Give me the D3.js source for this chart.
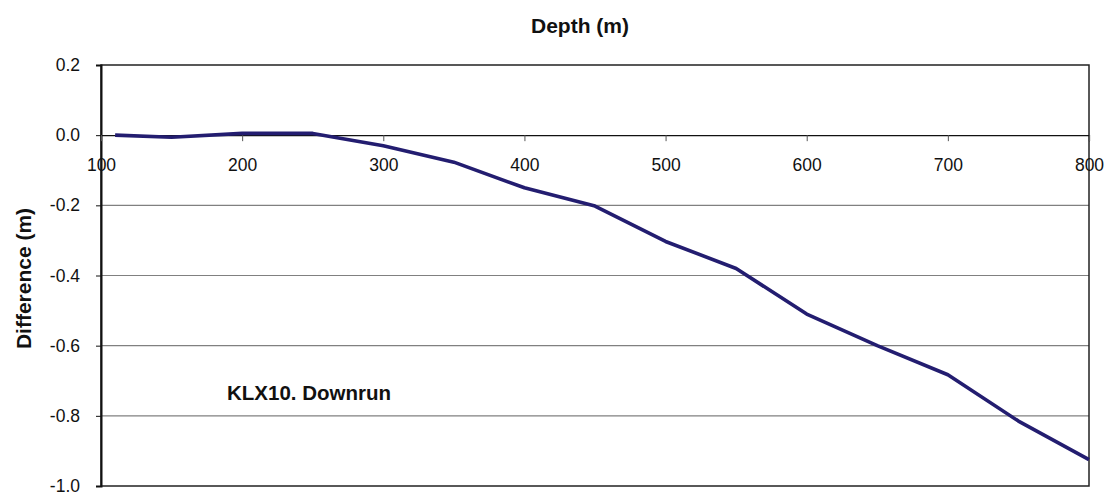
<!DOCTYPE html>
<html>
<head>
<meta charset="utf-8">
<script src="https://cdn.jsdelivr.net/npm/d3@7"></script>
<style>
  body { margin: 0; background: #fff; }
  svg text { font-family: "Liberation Sans", Arial, sans-serif; }
</style>
</head>
<body>
<svg id="chart" width="1107" height="499"></svg>
<script>
// depth (m) and difference (m)
var depths = [110, 150, 200, 250, 300, 350, 400, 450, 500, 550, 600, 650, 700, 750, 800];
var diffs = [0.0, -0.006, 0.005, 0.005, -0.03, -0.077, -0.15, -0.202, -0.303, -0.38, -0.51, -0.6, -0.683, -0.815, -0.925];
var xTicks = [100, 200, 300, 400, 500, 600, 700, 800];
var yTicks = [0.2, 0.0, -0.2, -0.4, -0.6, -0.8, -1.0];

var svg = d3.select("svg#chart"),
  margin = { top: 65, right: 18, bottom: 13, left: 101 },
  width = +svg.attr("width") - margin.left - margin.right,
  height = +svg.attr("height") - margin.top - margin.bottom,
  g = svg.append("g")
    .attr("transform", "translate(" + margin.left + "," + margin.top + ")");

var x = d3.scaleLinear().domain([100, 800]).range([0, width]);
var y = d3.scaleLinear().domain([-1.0, 0.2]).range([height, 0]);

// horizontal grid lines
g.append("g")
  .selectAll("line")
  .data(yTicks.filter(function (d) { return d !== 0 && d !== 0.2 && d !== -1.0; }))
  .enter()
  .append("line")
  .attr("x1", 0)
  .attr("x2", width)
  .attr("y1", function (d) { return y(d); })
  .attr("y2", function (d) { return y(d); })
  .attr("stroke", "#808080")
  .attr("stroke-width", 1.2);

// frame: top, right, bottom
g.append("rect")
  .attr("x", 0)
  .attr("y", 0)
  .attr("width", width)
  .attr("height", height)
  .attr("fill", "none")
  .attr("stroke", "#222")
  .attr("stroke-width", 1.5);

// y axis
var yAxis = g.append("g")
  .call(d3.axisLeft(y).tickValues(yTicks).tickFormat(d3.format(".1f")).tickSize(5).tickPadding(16))
  .attr("font-family", null)
  .attr("font-size", 17.5);
yAxis.select(".domain").attr("stroke", "#111").attr("stroke-width", 2);
yAxis.selectAll(".tick line").attr("stroke", "#111");
yAxis.selectAll("text").attr("fill", "#111").text(function (d) {
  return d3.format(".1f")(d).replace("−", "-");
});

// x axis along zero
var xAxis = g.append("g")
  .attr("transform", "translate(0," + y(0) + ")")
  .call(d3.axisBottom(x).tickValues(xTicks).tickSize(6).tickPadding(17))
  .attr("font-family", null)
  .attr("font-size", 17.5);
xAxis.select(".domain").attr("stroke", "#111").attr("stroke-width", 1.2);
xAxis.selectAll(".tick line").attr("stroke", "#555");
xAxis.selectAll("text").attr("fill", "#111");

// data line
var line = d3.line()
  .x(function (d, i) { return x(depths[i]); })
  .y(function (d) { return y(d); });

g.append("path")
  .datum(diffs)
  .attr("fill", "none")
  .attr("stroke", "#231d70")
  .attr("stroke-width", 3.6)
  .attr("stroke-linejoin", "round")
  .attr("d", line);

// titles
svg.append("text")
  .attr("x", 580)
  .attr("y", 33)
  .attr("text-anchor", "middle")
  .attr("font-weight", "bold")
  .attr("font-size", 21)
  .attr("fill", "#111")
  .text("Depth (m)");

svg.append("text")
  .attr("transform", "translate(31," + (margin.top + height / 2 + 3) + ") rotate(-90)")
  .attr("text-anchor", "middle")
  .attr("font-weight", "bold")
  .attr("font-size", 21)
  .attr("fill", "#111")
  .text("Difference (m)");

svg.append("text")
  .attr("x", 227)
  .attr("y", 400)
  .attr("font-weight", "bold")
  .attr("font-size", 20.5)
  .attr("fill", "#111")
  .text("KLX10. Downrun");
</script>
</body>
</html>
